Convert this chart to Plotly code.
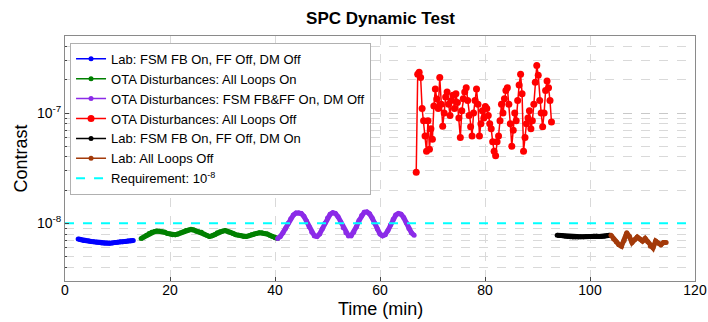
import numpy as np
import plotly.graph_objects as go

# ---------------- data ----------------
blue_name = "Lab: FSM FB On, FF Off, DM Off"
blue_t0, blue_dt = 2.5, 0.5
blue_v = [7.2, 7.1, 7.0, 6.95, 6.9, 6.85, 6.8, 6.75, 6.7, 6.65, 6.6, 6.6, 6.6,
          6.65, 6.7, 6.75, 6.8, 6.8, 6.85, 6.9, 6.95, 7.0]  # x1e-9

green_name = "OTA Disturbances: All Loops On"
green_t0, green_dt = 14.5, 0.5
green_v = [7.3, 7.5, 7.8, 8.1, 8.3, 8.4, 8.5, 8.5, 8.4, 8.3, 8.1, 8.0, 7.9, 7.9,
           8.0, 8.2, 8.4, 8.6, 8.7, 8.8, 8.7, 8.5, 8.4, 8.3, 8.0, 7.8, 7.6, 7.7,
           7.9, 8.2, 8.4, 8.5, 8.6, 8.5, 8.3, 8.1, 7.9, 7.8, 7.7, 7.6, 7.6, 7.7,
           7.9, 8.0, 8.1, 8.2, 8.2, 8.1, 8.0, 7.8, 7.6, 7.4, 7.3]  # x1e-9

purple_name = "OTA Disturbances: FSM FB&FF On, DM Off"
purple_t0, purple_dt = 40.5, 0.5
purple_v = [7.3, 7.6, 8.2, 9.0, 10.0, 11.0, 11.9, 12.4, 12.5, 12.3, 11.6, 10.5,
            9.3, 8.3, 7.7, 7.6, 8.0, 8.9, 10.0, 11.2, 12.1, 12.5, 12.3, 11.5,
            10.3, 9.1, 8.2, 7.7, 7.7, 8.3, 9.3, 10.6, 11.8, 12.6, 12.7, 12.2,
            11.2, 10.0, 8.9, 8.0, 7.7, 7.9, 8.6, 9.7, 10.9, 11.9, 12.3, 12.1,
            11.3, 10.1, 9.0, 8.2, 7.8]  # x1e-9

red_name = "OTA Disturbances: All Loops Off"
red_t0, red_dt = 66.9, 0.28
red_v = [0.29, 2.25, 2.35, 2.1, 1.1, 0.85, 0.62, 0.45, 0.85, 0.47, 0.72, 0.58,
         1.16, 1.65, 1.34, 1.1, 2.1, 1.2, 0.76, 1.0, 1.4, 1.55, 1.2, 0.95, 1.3,
         1.45, 1.1, 1.5, 1.25, 0.9, 0.6, 1.05, 1.35, 1.55, 1.7, 1.3, 0.95, 0.75,
         0.62, 1.0, 1.3, 1.65, 1.2, 0.62, 0.8, 1.05, 0.9, 1.15, 1.1, 0.95, 0.8,
         0.72, 0.55, 0.45, 0.41, 0.55, 0.62, 0.85, 1.2, 1.0, 1.35, 1.6, 1.7, 1.2,
         0.8, 0.5, 0.7, 1.0, 0.85, 1.3, 1.8, 2.25, 1.5, 0.45, 0.6, 0.8, 0.9, 1.05,
         0.72, 0.85, 1.2, 1.9, 2.7, 2.2, 1.3, 1.0, 0.75, 1.0, 1.6, 1.95, 1.7, 1.3,
         0.83]  # x1e-7

black_name = "Lab: FSM FB On, FF Off, DM On"
black_t0, black_dt = 93.75, 0.5
black_v = [7.8, 7.75, 7.7, 7.65, 7.6, 7.55, 7.5, 7.5, 7.5, 7.55, 7.55, 7.6, 7.6,
           7.6, 7.65, 7.65, 7.6, 7.6, 7.65, 7.7, 7.8]  # x1e-9

brown_name = "Lab: All Loops Off"
brown_t0, brown_dt = 104.0, 0.5
brown_v = [7.8, 7.2, 6.8, 6.4, 6.2, 7.0, 8.2, 7.6, 6.7, 7.1, 7.5, 7.2, 6.9, 7.3,
           6.8, 6.2, 6.0, 6.9, 6.6, 6.4, 6.7, 6.7]  # x1e-9

req_name = "Requirement: 10<sup>-8</sup>"
req_x = [0, 120]
req_v = [1e-8, 1e-8]

x_ticks = [0, 20, 40, 60, 80, 100, 120]
y_ticks = [1e-8, 1e-7]
y_ticktext = ["10<sup>-8</sup>", "10<sup>-7</sup>"]

# ---------------- figure ----------------
FONT = "Arial, Liberation Sans, sans-serif"
fig = go.Figure()

series = [
    (blue_name, blue_t0, blue_dt, blue_v, 1e-9, "#0000FF", 5, 5),
    (green_name, green_t0, green_dt, green_v, 1e-9, "#008000", 5, 5),
    (purple_name, purple_t0, purple_dt, purple_v, 1e-9, "#8B2BE8", 5, 5),
    (red_name, red_t0, red_dt, red_v, 1e-7, "#FF0000", 7, 0),
    (black_name, black_t0, black_dt, black_v, 1e-9, "#000000", 5, 5),
    (brown_name, brown_t0, brown_dt, brown_v, 1e-9, "#A33A0A", 5, 5),
]
for i, (name, t0, dt, vals, scale, col, ms, bw) in enumerate(series):
    t = [t0 + k * dt for k in range(len(vals))]
    y = [v * scale for v in vals]
    if bw:
        fig.add_trace(go.Scatter(
            x=t, y=y, mode="lines", showlegend=False, hoverinfo="skip",
            legendgroup=f"g{i}", line=dict(color=col, width=bw),
        ))
    fig.add_trace(go.Scatter(
        x=t, y=y, name=name, mode="lines+markers", legendgroup=f"g{i}",
        line=dict(color=col, width=1.5),
        marker=dict(color=col, size=ms),
    ))

fig.add_trace(go.Scatter(
    x=req_x, y=req_v, name=req_name, mode="lines",
    line=dict(color="#00FFFF", width=2, dash="dash"),
))

grid_col = "#d9d9d9"
minor_vals = []
for dec in [1e-9, 1e-8, 1e-7]:
    for k in range(2, 10):
        v = k * dec
        if 3e-9 <= v <= 5e-7:
            minor_vals.append(v)

fig.update_layout(
    template="none",
    width=708, height=322,
    margin=dict(l=65, r=13, t=36, b=41, autoexpand=False),
    paper_bgcolor="white", plot_bgcolor="white",
    font=dict(family=FONT, size=14, color="#000"),
    title=dict(text="<b>SPC Dynamic Test</b>", x=0.5375, xanchor="center",
               y=0.944, yanchor="middle", font=dict(size=17, color="#000")),
    showlegend=True,
    legend=dict(x=0.008, y=0.972, xanchor="left", yanchor="top",
                bgcolor="white", bordercolor="#b0b0b0", borderwidth=1,
                font=dict(size=13, color="#000"), tracegroupgap=0,
                itemwidth=30),
    annotations=[
        dict(text="Time (min)", xref="paper", yref="paper", x=0.5, y=-0.116,
             xanchor="center", yanchor="middle", showarrow=False,
             font=dict(size=18)),
        dict(text="Contrast", xref="paper", yref="paper", x=-0.0714, y=0.5,
             xanchor="center", yanchor="middle", showarrow=False,
             textangle=-90, font=dict(size=18)),
    ],
)
fig.update_xaxes(
    range=[0, 120], tickvals=x_ticks, ticks="inside", ticklen=4,
    ticklabelstandoff=-4,
    automargin=False,
    showline=True, linecolor="#8a8a8a", linewidth=1, mirror=True,
    showgrid=True, gridcolor=grid_col, griddash="dash", gridwidth=1,
    zeroline=False, tickfont=dict(size=14),
)
fig.update_yaxes(
    type="log", range=[np.log10(3e-9), np.log10(5e-7)],
    automargin=False,
    tickvals=y_ticks, ticktext=y_ticktext, ticks="inside", ticklen=4,
    showline=True, linecolor="#8a8a8a", linewidth=1, mirror=True,
    showgrid=True, gridcolor="#c8c8c8", griddash="dash", gridwidth=1,
    zeroline=False, tickfont=dict(size=14),
    minor=dict(tickvals=minor_vals, showgrid=True, gridcolor=grid_col,
               griddash="dash", ticks="inside", ticklen=2),
)

fig.write_html(
    "out.html",
    config={"displayModeBar": False},
    post_script="document.body.style.margin='0';document.body.style.padding='0';",
)
